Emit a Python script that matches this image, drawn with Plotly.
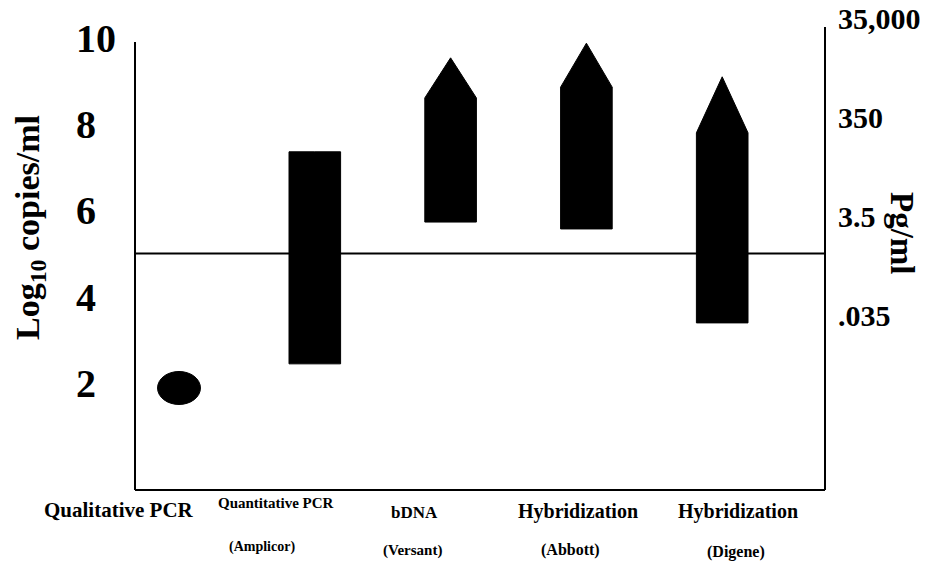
import plotly.graph_objects as go

# ---------------- data ----------------
categories = ["Qualitative PCR", "Quantitative PCR", "bDNA", "Hybridization", "Hybridization"]
sublabels = ["", "(Amplicor)", "(Versant)", "(Abbott)", "(Digene)"]
qualitative_point = 1.88                      # log10 copies/ml (detection point)
range_low = [None, 2.44, 5.73, 5.57, 3.39]    # lower end of dynamic range
range_high = [None, 7.36, 8.61, 8.86, 7.80]   # upper end of solid bar
arrow_tip = [None, None, 9.54, 9.88, 9.10]    # arrow head (extends beyond)
threshold = 5.0
left_ticks = [2, 4, 6, 8, 10]
left_ticktext = ["2\u2002", "4\u2002", "6\u2002", "8\u2002", "10"]
right_ticks = [0.035, 3.5, 350, 35000]
right_ticktext = [".035", "3.5", "350", "35,000"]

# ---------------- layout helpers ----------------
W, H = 929, 587
L, R, T, B = 135, 104, 10, 97
PW, PH = W - L - R, H - T - B
FONT = "Liberation Serif"


def px_x(px):
    return (px - L) / PW


def px_y(py):
    return (H - B - py) / PH


idx = list(range(len(categories)))
hw = 0.19  # half bar width in category units

fig = go.Figure()

for i in idx:
    lo, hi, tip = range_low[i], range_high[i], arrow_tip[i]
    if lo is None:
        continue
    top = tip if tip is not None else hi
    xs = [i - hw, i - hw, i, i + hw, i + hw, i - hw]
    ys = [lo, hi, top, hi, lo, lo]
    fig.add_trace(go.Scatter(x=xs, y=ys, mode="lines", fill="toself",
                             fillcolor="black", line=dict(color="black", width=1),
                             showlegend=False, hoverinfo="skip"))

# invisible trace to activate the right axis
fig.add_trace(go.Scatter(x=[0], y=[1], yaxis="y2", mode="markers",
                         marker=dict(opacity=0), showlegend=False, hoverinfo="skip"))

shapes = [
    # qualitative PCR ellipse
    dict(type="circle", xref="x", yref="y", x0=0 - 0.158, x1=0 + 0.158,
         y0=qualitative_point - 0.383, y1=qualitative_point + 0.383,
         fillcolor="black", line=dict(color="black", width=1)),
    # threshold line
    dict(type="line", xref="paper", yref="y", x0=0, x1=1, y0=threshold, y1=threshold,
         line=dict(color="black", width=2)),
    # axis lines
    dict(type="line", xref="paper", yref="paper", x0=0, x1=0, y0=0, y1=px_y(42),
         line=dict(color="black", width=2)),
    dict(type="line", xref="paper", yref="paper", x0=1, x1=1, y0=0, y1=px_y(27),
         line=dict(color="black", width=2)),
    dict(type="line", xref="paper", yref="paper", x0=0, x1=1, y0=0, y1=0,
         line=dict(color="black", width=2)),
]

annotations = [
    dict(text="Log<sub>10</sub> copies/ml", xref="paper", yref="paper",
         x=px_x(30), y=px_y(228), textangle=-90, showarrow=False,
         xanchor="center", yanchor="middle",
         font=dict(family=FONT, size=34, color="black", weight="bold")),
    dict(text="Pg/ml", xref="paper", yref="paper",
         x=px_x(902), y=px_y(233), textangle=90, showarrow=False,
         xanchor="center", yanchor="middle",
         font=dict(family=FONT, size=33, color="black", weight="bold")),
]

line1_px = [(119, 510, 21), (276, 503, 15), (414, 512, 17), (578, 511, 20), (738, 511, 20)]
line2_px = [None, (262, 547, 14), (412, 550, 15), (570, 550, 16), (736, 552, 16)]
for i in idx:
    cx, cy, fs = line1_px[i]
    annotations.append(dict(text=categories[i], xref="paper", yref="paper",
                            x=px_x(cx), y=px_y(cy), showarrow=False,
                            xanchor="center", yanchor="middle",
                            font=dict(family=FONT, size=fs, color="black", weight="bold")))
    if sublabels[i] and line2_px[i]:
        cx, cy, fs = line2_px[i]
        annotations.append(dict(text=sublabels[i], xref="paper", yref="paper",
                                x=px_x(cx), y=px_y(cy), showarrow=False,
                                xanchor="center", yanchor="middle",
                                font=dict(family=FONT, size=fs, color="black", weight="bold")))

fig.update_layout(
    template="none",
    width=W, height=H,
    margin=dict(l=L, r=R, t=T, b=B, autoexpand=False),
    paper_bgcolor="white", plot_bgcolor="white",
    showlegend=False,
    xaxis=dict(range=[-0.324, 4.757], showticklabels=False, showgrid=False,
               zeroline=False, showline=False, ticks="", automargin=False),
    yaxis=dict(range=[-0.487, 10.65], tickvals=left_ticks, ticktext=left_ticktext,
               tickfont=dict(family=FONT, size=40, color="black", weight="bold"),
               showgrid=False, zeroline=False, showline=False, ticks="",
               ticklabelstandoff=18, automargin=False),
    yaxis2=dict(overlaying="y", side="right", type="log",
                range=[-4.991, 4.706], tickvals=right_ticks, ticktext=right_ticktext,
                tickfont=dict(family=FONT, size=30, color="black", weight="bold"),
                showgrid=False, zeroline=False, showline=False, ticks="",
                ticklabelstandoff=12, automargin=False),
    shapes=shapes,
    annotations=annotations,
)

fig.write_html("out.html", config={"displayModeBar": False},
               post_script="document.body.style.margin='0px';document.body.style.overflow='hidden';")
